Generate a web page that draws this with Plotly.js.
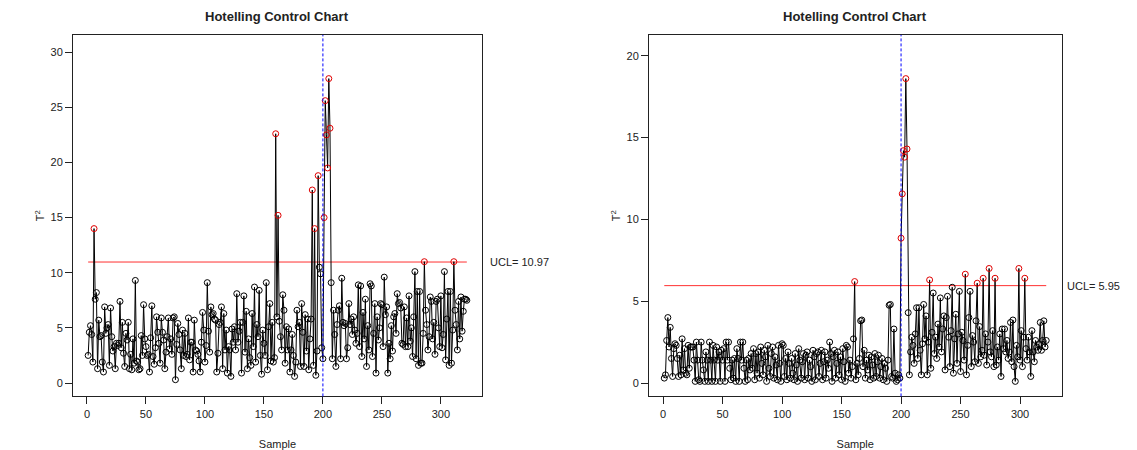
<!DOCTYPE html>
<html><head><meta charset="utf-8">
<script src="https://cdn.plot.ly/plotly-3.0.1.min.js"></script>
<style>html,body{margin:0;padding:0;background:#fff}#chart{width:1137px;height:450px}</style>
</head><body><div id="chart"></div>
<script>
// ---- data ----
const chartTitle = "Hotelling Control Chart";
const xLabel = "Sample";
const yLabel = "T<sup>2</sup>";
const xTicks = [0, 50, 100, 150, 200, 250, 300];
const yTicksLeft = [0, 5, 10, 15, 20, 25, 30];
const yTicksRight = [0, 5, 10, 15, 20];
const uclLeft = 10.97;
const uclRight = 5.95;
const shiftSample = 200;

const t2Left = [
 2.5, 4.6, 5.2, 4.4, 1.9, 14.0, 7.6, 8.2, 1.3, 5.7,
 4.2, 4.3, 1.9, 1.0, 6.9, 4.5, 5.0, 5.3, 1.6, 6.8,
 4.2, 2.9, 3.3, 1.3, 3.6, 3.4, 3.6, 7.4, 3.2, 5.5,
 2.7, 1.5, 4.5, 3.9, 5.5, 1.3, 2.6, 1.2, 4.0, 1.8,
 9.3, 2.0, 1.9, 1.2, 1.3, 4.3, 2.5, 7.1, 4.0, 3.3,
 2.5, 2.6, 1.0, 4.1, 7.0, 2.4, 1.7, 3.2, 6.0, 4.6,
 3.6, 1.8, 5.9, 4.6, 3.9, 1.3, 2.8, 4.2, 5.9, 3.1,
 4.0, 2.6, 5.9, 6.0, 0.3, 3.5, 5.4, 4.4, 3.0, 1.3,
 4.8, 2.5, 4.5, 2.4, 2.6, 5.9, 2.1, 3.7, 3.7, 1.0,
 5.7, 3.0, 2.9, 2.6, 2.0, 1.0, 3.7, 6.4, 4.8, 1.9,
 3.4, 9.1, 4.7, 2.8, 6.9, 6.2, 6.3, 5.8, 5.7, 1.0,
 2.7, 5.3, 5.5, 6.9, 1.3, 6.3, 3.0, 4.8, 0.9, 3.3,
 3.0, 0.6, 4.9, 3.7, 5.1, 3.0, 8.1, 3.7, 4.7, 5.5,
 0.9, 5.5, 7.9, 2.8, 6.5, 1.3, 4.0, 2.3, 1.6, 6.3,
 3.3, 8.7, 1.9, 5.3, 4.2, 8.4, 2.5, 0.8, 4.8, 3.6,
 2.5, 9.1, 1.2, 5.1, 7.2, 2.0, 5.5, 1.9, 2.3, 22.6,
 6.0, 15.2, 5.6, 4.2, 3.0, 8.0, 6.6, 1.8, 5.1, 3.0,
 4.9, 1.0, 3.0, 4.4, 2.5, 0.6, 1.9, 6.6, 5.1, 5.5,
 1.5, 7.2, 4.6, 1.5, 6.2, 2.9, 5.8, 1.2, 4.0, 5.8,
 17.5, 1.6, 14.0, 0.7, 2.9, 18.8, 10.5, 9.9, 3.2, 2.2,
 15.0, 25.6, 22.5, 19.5, 27.6, 23.1, 9.1, 2.2, 6.6, 4.4,
 1.5, 5.3, 6.6, 7.0, 2.2, 9.5, 5.5, 5.2, 5.4, 2.2,
 3.2, 7.2, 5.3, 5.8, 4.4, 6.0, 4.8, 3.6, 4.5, 8.9,
 3.3, 8.8, 2.4, 6.4, 4.0, 7.6, 1.5, 5.2, 3.0, 9.0,
 8.8, 2.4, 4.5, 7.2, 0.9, 6.0, 3.9, 5.0, 7.2, 7.1,
 3.3, 9.6, 6.2, 6.9, 0.9, 3.6, 2.2, 5.2, 2.9, 6.0,
 6.3, 4.5, 8.1, 7.2, 7.3, 6.8, 3.6, 3.5, 6.9, 3.3,
 5.9, 3.3, 7.9, 3.8, 5.0, 2.4, 6.0, 10.1, 2.2, 8.3,
 1.6, 8.3, 1.8, 1.8, 4.5, 11.0, 6.6, 5.3, 3.0, 4.2,
 7.8, 7.4, 4.0, 5.5, 2.6, 7.4, 7.6, 5.0, 3.3, 7.9,
 3.2, 4.4, 10.1, 2.1, 5.8, 8.3, 1.6, 8.3, 1.8, 4.8,
 11.0, 6.6, 5.3, 3.0, 7.4, 4.0, 7.8, 4.7, 6.5, 7.6,
 7.6, 7.5
];

const t2Right = [
 0.3, 0.5, 2.6, 4.0, 2.2, 3.4, 1.5, 0.4, 2.1, 2.4,
 2.3, 1.5, 0.4, 1.7, 0.5, 2.7, 0.8, 2.1, 0.6, 0.5,
 2.3, 0.9, 2.2, 2.2, 2.2, 1.4, 0.1, 2.5, 1.4, 0.2,
 0.1, 2.5, 1.4, 0.8, 0.1, 1.9, 1.4, 0.1, 2.5, 1.4,
 0.1, 2.3, 1.4, 0.1, 2.2, 1.4, 1.9, 0.1, 2.0, 1.4,
 2.1, 0.1, 2.5, 1.4, 2.5, 0.9, 0.2, 1.4, 0.3, 1.5,
 0.1, 2.1, 1.5, 0.1, 2.5, 1.4, 2.5, 0.9, 0.1, 1.4,
 0.2, 1.5, 0.8, 1.8, 0.9, 2.1, 0.2, 1.8, 0.6, 1.9,
 0.3, 2.2, 1.2, 0.5, 2.0, 1.6, 0.1, 2.3, 0.9, 0.4,
 1.8, 2.2, 0.3, 1.6, 1.1, 0.2, 2.3, 1.2, 0.1, 2.4,
 2.3, 0.4, 1.5, 0.2, 1.9, 1.2, 0.3, 1.5, 0.6, 0.2,
 1.8, 1.1, 0.1, 2.1, 1.4, 0.3, 1.3, 1.8, 0.2, 1.7,
 1.9, 0.3, 1.4, 1.0, 0.1, 2.0, 1.6, 0.2, 1.8, 1.9,
 0.4, 1.2, 2.0, 0.2, 1.3, 1.9, 0.3, 1.4, 0.9, 2.5,
 1.8, 0.1, 1.6, 2.0, 0.3, 1.2, 1.9, 0.5, 1.6, 0.2,
 2.1, 1.3, 0.1, 2.3, 2.2, 0.6, 1.4, 0.3, 1.0, 2.7,
 6.2, 0.2, 1.2, 0.5, 1.5, 3.8, 3.85, 1.0, 2.0, 0.3,
 1.4, 0.8, 1.7, 0.2, 1.6, 1.1, 0.3, 1.8, 0.4, 1.3,
 1.7, 0.3, 1.0, 1.5, 0.2, 1.2, 0.9, 0.1, 1.4, 4.75,
 4.8, 0.4, 0.3, 3.3, 0.6, 0.1, 0.2, 0.5, 0.3, 8.85,
 11.56, 14.2, 13.8, 18.6, 14.3, 4.3, 0.5, 1.9, 2.8, 2.3,
 1.2, 3.0, 4.6, 1.5, 4.6, 2.0, 0.5, 2.4, 4.8, 2.7,
 4.1, 0.5, 2.5, 6.3, 0.9, 3.1, 5.5, 1.8, 2.8, 1.5,
 3.6, 2.2, 5.2, 1.9, 3.3, 4.1, 0.8, 4.0, 5.3, 2.8,
 1.0, 3.2, 5.85, 0.6, 2.7, 4.2, 1.2, 3.0, 5.6, 0.7,
 3.1, 2.6, 1.4, 6.65, 0.5, 2.3, 4.0, 5.6, 1.0, 2.9,
 2.5, 1.3, 3.8, 6.1, 1.2, 3.45, 1.6, 2.0, 6.4, 1.7,
 3.0, 1.1, 2.5, 7.0, 1.9, 1.6, 3.2, 1.0, 6.4, 1.1,
 2.2, 1.4, 3.0, 0.4, 3.3, 2.1, 3.3, 1.9, 2.6, 1.5,
 1.9, 3.7, 1.3, 3.85, 1.0, 0.1, 2.3, 1.6, 7.0, 1.4,
 3.2, 1.0, 2.8, 6.4, 2.1, 1.4, 2.8, 1.9, 0.4, 3.2,
 1.9, 1.3, 2.6, 2.2, 2.0, 2.4, 3.7, 2.0, 2.6, 3.8,
 2.2, 2.6
];

// ---- drawing ----
const FONT = "Liberation Sans, Arial, Helvetica, sans-serif";
const INK = "#222";

function seriesTraces(vals, ucl, xa, ya) {
  const xs = vals.map((_, i) => i + 1);
  const cols = vals.map(v => v > ucl ? "#e00000" : "black");
  return [
    { x: [1, vals.length], y: [ucl, ucl], xaxis: xa, yaxis: ya, mode: "lines",
      line: { color: "#ff3030", width: 1 }, hoverinfo: "skip", showlegend: false },
    { x: xs, y: vals, xaxis: xa, yaxis: ya, mode: "lines+markers",
      line: { color: "black", width: 1 },
      marker: { symbol: "circle-open", size: 6, color: cols, line: { width: 1, color: cols } },
      showlegend: false }
  ];
}

const traces = [
  ...seriesTraces(t2Left, uclLeft, "x", "y"),
  ...seriesTraces(t2Right, uclRight, "x2", "y2")
];

function xAxis(domain, anchor) {
  return { domain, anchor, range: [-11.84, 334.84], tickmode: "array", tickvals: xTicks,
    ticks: "outside", ticklen: 7, tickwidth: 1, tickcolor: INK,
    showline: true, mirror: true, linecolor: INK, linewidth: 1,
    showgrid: false, zeroline: false, tickfont: { size: 11, color: INK, family: FONT },
    title: { text: xLabel, font: { size: 11, color: INK, family: FONT }, standoff: 21 } };
}
function yAxis(domain, anchor, range, ticks) {
  return { domain, anchor, range, tickmode: "array", tickvals: ticks,
    ticks: "outside", ticklen: 7, tickwidth: 1, tickcolor: INK,
    showline: true, mirror: true, linecolor: INK, linewidth: 1,
    showgrid: false, zeroline: false, tickfont: { size: 11, color: INK, family: FONT },
    title: { text: yLabel, font: { size: 11, color: INK, family: FONT }, standoff: 3 } };
}

const yDom = [0.1191, 0.9224];
const layout = {
  width: 1137, height: 450,
  margin: { l: 0, r: 0, t: 0, b: 0 },
  paper_bgcolor: "white", plot_bgcolor: "white",
  font: { family: FONT, color: INK },
  showlegend: false,
  xaxis: xAxis([0.0642, 0.4239], "y"),
  yaxis: yAxis(yDom, "x", [-1.214, 31.56], yTicksLeft),
  xaxis2: xAxis([0.5708, 0.9336], "y2"),
  yaxis2: yAxis(yDom, "x2", [-0.818, 21.27], yTicksRight),
  shapes: [
    { type: "line", xref: "x", yref: "y domain", x0: shiftSample, x1: shiftSample, y0: 0, y1: 1,
      line: { color: "blue", width: 1, dash: "3px,2px" } },
    { type: "line", xref: "x2", yref: "y2 domain", x0: shiftSample, x1: shiftSample, y0: 0, y1: 1,
      line: { color: "blue", width: 1, dash: "3px,2px" } }
  ],
  annotations: [
    { text: "<b>" + chartTitle + "</b>", xref: "x domain", yref: "paper", x: 0.5, y: 1 - 16/450,
      xanchor: "center", yanchor: "middle", showarrow: false, font: { size: 13, color: INK, family: FONT } },
    { text: "<b>" + chartTitle + "</b>", xref: "x2 domain", yref: "paper", x: 0.5, y: 1 - 16/450,
      xanchor: "center", yanchor: "middle", showarrow: false, font: { size: 13, color: INK, family: FONT } },
    { text: "UCL= " + uclLeft.toFixed(2), xref: "paper", yref: "y", x: 488/1137, y: uclLeft,
      xanchor: "left", yanchor: "middle", showarrow: false, font: { size: 11, color: INK, family: FONT } },
    { text: "UCL= " + uclRight.toFixed(2), xref: "paper", yref: "y2", x: 1065/1137, y: uclRight,
      xanchor: "left", yanchor: "middle", showarrow: false, font: { size: 11, color: INK, family: FONT } }
  ]
};

Plotly.newPlot("chart", traces, layout, { displayModeBar: false, staticPlot: true });
</script>
</body></html>
